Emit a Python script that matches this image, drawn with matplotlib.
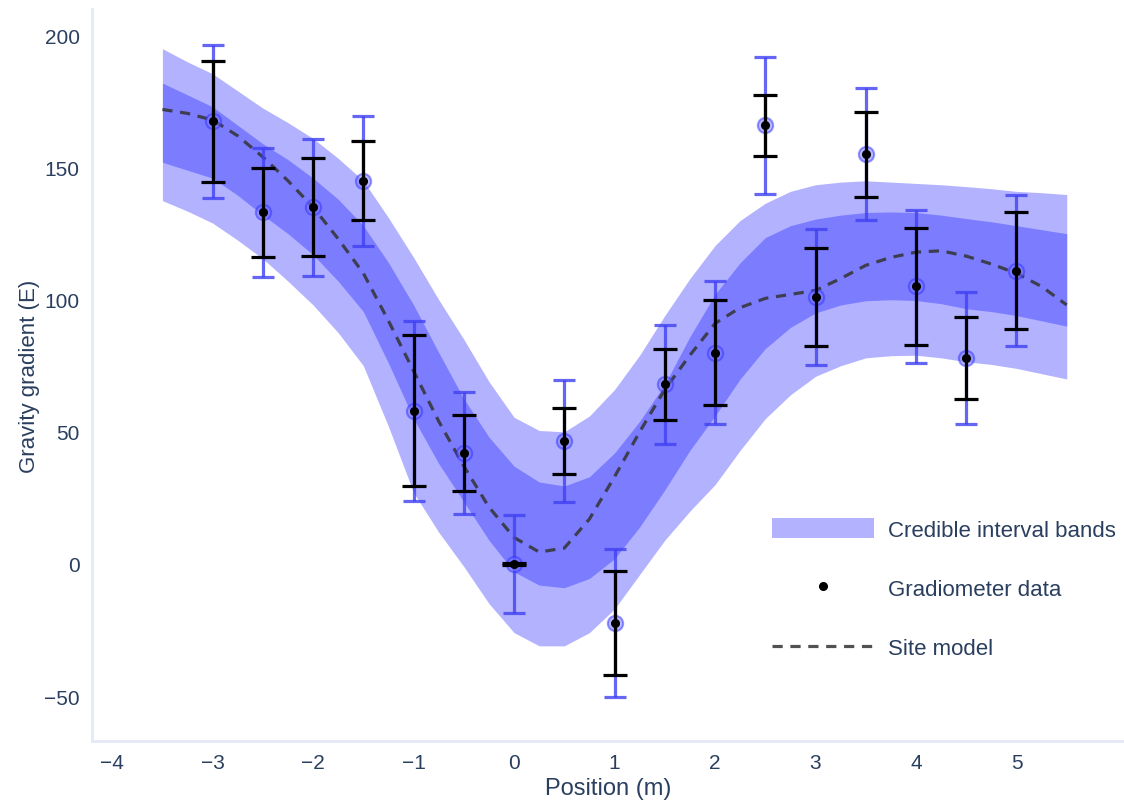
import matplotlib
matplotlib.use("Agg")
import matplotlib.pyplot as plt
import numpy as np

plt.rcParams['font.family'] = ['Liberation Sans', 'DejaVu Sans']

# ---- data ----
pos = [-3, -2.5, -2, -1.5, -1, -0.5, 0, 0.5, 1, 1.5, 2, 2.5, 3, 3.5, 4, 4.5, 5]
grad = [167.5, 133, 135, 145, 58, 42, 0, 46.5, -22.5, 68, 80, 166, 101, 155, 105, 78, 111]
err_black = [23, 17, 18.5, 15, 28.5, 14.5, 0.3, 12.5, 19.7, 13.5, 20, 11.5, 18.5, 16, 22, 15.5, 22]
err_blue = [29, 24.5, 26, 24.5, 34, 23, 18.5, 23, 28, 22.5, 27, 26, 25.7, 25, 29, 25, 28.5]

band_x = [-3.5, -3.25, -3, -2.75, -2.5, -2.25, -2, -1.75, -1.5, -1.25, -1, -0.75, -0.5, -0.25,
          0, 0.25, 0.5, 0.75, 1, 1.25, 1.5, 1.75, 2, 2.25, 2.5, 2.75, 3, 3.25, 3.5, 3.75,
          4, 4.25, 4.5, 4.75, 5, 5.25, 5.5]
outer_hi = [195, 190, 185.5, 179, 172.5, 167, 161, 153.5, 145, 131, 116, 100, 85, 69,
            55.5, 50.5, 50, 56, 66, 79, 94, 108, 120.5, 130, 136.5, 141, 143.5, 144.5, 145, 144.5,
            144, 143.5, 142.8, 142, 141, 140.5, 139.8]
inner_hi = [182, 177.5, 173, 166, 159, 153, 146, 138, 128, 114, 98, 80, 62.5, 48,
            37, 31, 29.5, 33, 42, 54, 68, 86, 102, 114, 123.5, 128, 130.5, 132, 133, 133.2,
            133, 132, 130.7, 129.5, 128, 126.5, 125]
inner_lo = [152, 149, 146, 139.5, 132, 125, 117, 107, 95.5, 76, 55, 38, 23.5, 9,
            -3, -8, -9, -5.5, 2, 14, 28, 43, 56, 70, 81.5, 89.5, 95, 98, 99.6, 100,
            99.7, 98.5, 96.6, 95.5, 94, 92, 90]
outer_lo = [137.5, 133.5, 129, 122.5, 115.5, 107, 98, 87.5, 75, 52, 27, 12, -1, -15,
            -26, -31, -31, -26, -17, -4, 9, 20, 30, 43, 55, 64, 71, 75, 78, 78.8,
            79, 78, 76.5, 75.5, 74, 72, 70]

model_x = band_x
model_y = [172, 170.5, 168, 162, 154, 145, 135, 123, 110, 92, 73, 54, 37, 21.5,
           10, 4.5, 6, 17, 33, 50, 66, 79, 91, 97, 100.5, 102, 103.5, 108, 113, 116,
           118, 118.5, 116.5, 113.5, 110, 105, 98]

xticks = [-4, -3, -2, -1, 0, 1, 2, 3, 4, 5]
yticks = [-50, 0, 50, 100, 150, 200]

txt = '#2a3f5f'
spine_c = '#e3e9f5'

fig = plt.figure(figsize=(11.24, 8.03), dpi=100)
ax = fig.add_axes([0.0819, 0.076, 0.9181, 0.9115])

band_c = (0.0, 0.0, 1.0, 0.3)
ax.fill_between(band_x, outer_lo, outer_hi, color=band_c, lw=0, label='Credible interval bands', zorder=1)
ax.fill_between(band_x, inner_lo, inner_hi, color=band_c, lw=0, zorder=1.1)

ax.plot(model_x, model_y, ls=(0, (3.2, 2.4)), color='#333333', alpha=0.85, lw=2.3,
        label='Site model', zorder=2)

ax.errorbar(pos, grad, yerr=err_blue, fmt='none', ecolor=(0.25, 0.25, 0.95, 0.8),
            elinewidth=2.3, capsize=8, capthick=2.3, zorder=3)
ax.plot(pos, grad, 'o', ms=11, mfc=(0.45, 0.45, 1.0, 0.5), mec=(0.2, 0.2, 1.0, 0.5),
        mew=1.5, ls='none', zorder=3.5)
ax.errorbar(pos, grad, yerr=err_black, fmt='none', ecolor='black',
            elinewidth=2.3, capsize=8.5, capthick=2.3, zorder=4)
ax.plot(pos, grad, 'o', ms=5.5, color='black', ls='none', label='Gradiometer data', zorder=5)

ax.set_xlim(-4.2, 6.07)
ax.set_ylim(-67, 210)
ax.set_xticks(xticks)
ax.set_yticks(yticks)
ax.set_xticklabels(['\u2212' + str(-t) if t < 0 else str(t) for t in xticks])
ax.set_yticklabels(['\u2212' + str(-t) if t < 0 else str(t) for t in yticks])
ax.tick_params(length=0, labelsize=15, colors=txt, pad=9)
for s in ['top', 'right']:
    ax.spines[s].set_visible(False)
for s in ['left', 'bottom']:
    ax.spines[s].set_color(spine_c)
    ax.spines[s].set_linewidth(2)
ax.set_xlabel('Position (m)', fontsize=17, color=txt, labelpad=3)
ax.set_ylabel('Gravity gradient (E)', fontsize=16, color=txt, labelpad=3)

h, l = ax.get_legend_handles_labels()
order = [l.index('Credible interval bands'), l.index('Gradiometer data'), l.index('Site model')]
leg = ax.legend([h[i] for i in order], [l[i] for i in order], loc='center left',
                bbox_to_anchor=(0.659, 0.2077), frameon=False, fontsize=16,
                handlelength=4.6, handleheight=1.0, labelspacing=1.65, handletextpad=0.6,
                borderpad=0, borderaxespad=0)
for t in leg.get_texts():
    t.set_color(txt)

fig.savefig('out.png', dpi=100)
